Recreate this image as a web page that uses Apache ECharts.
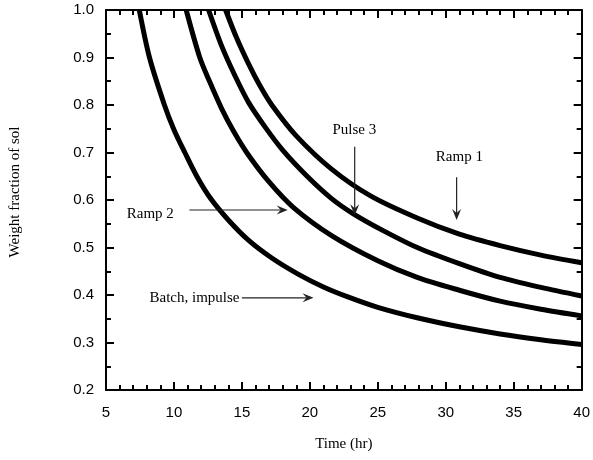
<!DOCTYPE html>
<html><head><meta charset="utf-8">
<script src="https://cdn.jsdelivr.net/npm/echarts@6/dist/echarts.min.js"></script>
<style>html,body{margin:0;padding:0;background:#fff}#c{width:593px;height:460px}</style>
</head><body><div id="c"></div>
<script>
// Data (time in hr, weight fraction of sol)
var batchTime = [7.45, 8.2, 9.3, 10, 10.8, 11.7, 12.7, 14, 15.5, 17.2, 19.2, 21, 22.8, 25, 27.9, 31, 34, 37, 40];
var batchSol  = [1.0, 0.90, 0.80, 0.748, 0.70, 0.649, 0.603, 0.558, 0.515, 0.478, 0.443, 0.417, 0.396, 0.374, 0.352, 0.333, 0.318, 0.306, 0.296];
var ramp2Time = [10.9, 11.9, 12.6, 13.5, 14.4, 15.4, 17, 18.8, 21.6, 25, 27.9, 31, 34, 37, 40];
var ramp2Sol  = [1.0, 0.90, 0.851, 0.793, 0.744, 0.698, 0.638, 0.584, 0.525, 0.472, 0.437, 0.41, 0.387, 0.37, 0.356];
var pulse3Time = [12.55, 13.5, 14.5, 15.5, 16.7, 18, 19.8, 21.6, 23.2, 25.5, 27.9, 31, 34, 37, 40];
var pulse3Sol  = [1.0, 0.925, 0.861, 0.805, 0.754, 0.705, 0.650, 0.603, 0.571, 0.534, 0.50, 0.466, 0.437, 0.416, 0.398];
var ramp1Time = [13.8, 14.6, 15.5, 16.3, 17.2, 19, 21.6, 24.5, 27.9, 31, 34, 37, 40];
var ramp1Sol  = [1.0, 0.942, 0.886, 0.842, 0.800, 0.735, 0.665, 0.608, 0.562, 0.528, 0.504, 0.484, 0.468];
var xTicks = [5, 10, 15, 20, 25, 30, 35, 40];
var yTicks = [0.2, 0.3, 0.4, 0.5, 0.6, 0.7, 0.8, 0.9, 1.0];

// annotation anchors (data units)
var notes = [
  {text: 'Pulse 3', at: [23.27, 0.747], align: 'center', from: [23.3, 0.712], to: [23.3, 0.568]},
  {text: 'Ramp 1', at: [31.0, 0.691], align: 'center', from: [30.8, 0.648], to: [30.8, 0.558]},
  {text: 'Ramp 2', at: [6.53, 0.571], align: 'left', from: [11.14, 0.579], to: [18.37, 0.579]},
  {text: 'Batch, impulse', at: [8.2, 0.394], align: 'left', from: [15.0, 0.394], to: [20.27, 0.394]}
];

function zip(a, b) { return a.map(function (v, i) { return [v, b[i]]; }); }
function lineSeries(name, t, s) {
  return {name: name, type: 'line', data: zip(t, s), smooth: 0.3,
    showSymbol: false, symbol: 'none',
    lineStyle: {color: '#000', width: 5}, clip: true, z: 3};
}
var axisCommon = {
  type: 'value',
  axisLine: {show: true, onZero: false, lineStyle: {color: '#000', width: 2}},
  splitLine: {show: false},
  axisTick: {show: true, inside: true, length: 8, lineStyle: {color: '#000', width: 2}},
  minorTick: {show: true, length: 5, lineStyle: {color: '#000', width: 2}}
};
var chart = echarts.init(document.getElementById('c'), null, {renderer: 'canvas'});
var option = {
  animation: false,
  backgroundColor: '#fff',
  grid: {left: 106, right: 8, top: 10, bottom: 70},
  xAxis: [
    Object.assign({}, axisCommon, {min: xTicks[0], max: xTicks[xTicks.length - 1], interval: 5,
      minorTick: Object.assign({}, axisCommon.minorTick, {splitNumber: 5}),
      axisLabel: {color: '#000', fontFamily: 'Liberation Sans', fontSize: 15, margin: 15},
      name: 'Time (hr)', nameLocation: 'middle', nameGap: 47,
      nameTextStyle: {color: '#000', fontFamily: 'Liberation Serif', fontSize: 15}}),
    Object.assign({}, axisCommon, {position: 'top', min: 5, max: 40, interval: 5,
      minorTick: Object.assign({}, axisCommon.minorTick, {splitNumber: 5}),
      axisLabel: {show: false}})
  ],
  yAxis: [
    Object.assign({}, axisCommon, {min: yTicks[0], max: yTicks[yTicks.length - 1], interval: 0.1,
      minorTick: Object.assign({}, axisCommon.minorTick, {splitNumber: 2}),
      axisLabel: {color: '#000', fontFamily: 'Liberation Sans', fontSize: 15, margin: 12,
        formatter: function (v) { return v.toFixed(1); }}}),
    Object.assign({}, axisCommon, {position: 'right', min: 0.2, max: 1.0, interval: 0.1,
      minorTick: Object.assign({}, axisCommon.minorTick, {splitNumber: 2}),
      axisLabel: {show: false}})
  ],
  series: [
    lineSeries('Batch, impulse', batchTime, batchSol),
    lineSeries('Ramp 2', ramp2Time, ramp2Sol),
    lineSeries('Pulse 3', pulse3Time, pulse3Sol),
    lineSeries('Ramp 1', ramp1Time, ramp1Sol)
  ]
};
chart.setOption(option);

function px(p) { return chart.convertToPixel({xAxisIndex: 0, yAxisIndex: 0}, p); }
var g = [{type: 'text', x: 15, y: 192, rotation: Math.PI / 2, z: 10,
  style: {text: 'Weight fraction of sol', font: '15px "Liberation Serif"', fill: '#000', align: 'center', verticalAlign: 'middle'}}];
notes.forEach(function (n) {
  var a = px(n.at);
  g.push({type: 'text', x: a[0], y: a[1], z: 10,
    style: {text: n.text, font: '15px "Liberation Serif"', fill: '#000', align: n.align, verticalAlign: 'middle'}});
  var f = px(n.from), t = px(n.to);
  var dx = t[0] - f[0], dy = t[1] - f[1], L = Math.sqrt(dx * dx + dy * dy);
  var ux = dx / L, uy = dy / L, nx = -uy, ny = ux;
  var hl = 11, hw = 4.5, notch = 7;
  g.push({type: 'line', z: 10, shape: {x1: f[0], y1: f[1], x2: t[0] - ux * notch, y2: t[1] - uy * notch},
    style: {stroke: '#222', lineWidth: 1.2}});
  g.push({type: 'polygon', z: 10, shape: {points: [
    [t[0], t[1]],
    [t[0] - ux * hl + nx * hw, t[1] - uy * hl + ny * hw],
    [t[0] - ux * notch, t[1] - uy * notch],
    [t[0] - ux * hl - nx * hw, t[1] - uy * hl - ny * hw]
  ]}, style: {fill: '#222'}});
});
chart.setOption({graphic: g});
</script></body></html>
